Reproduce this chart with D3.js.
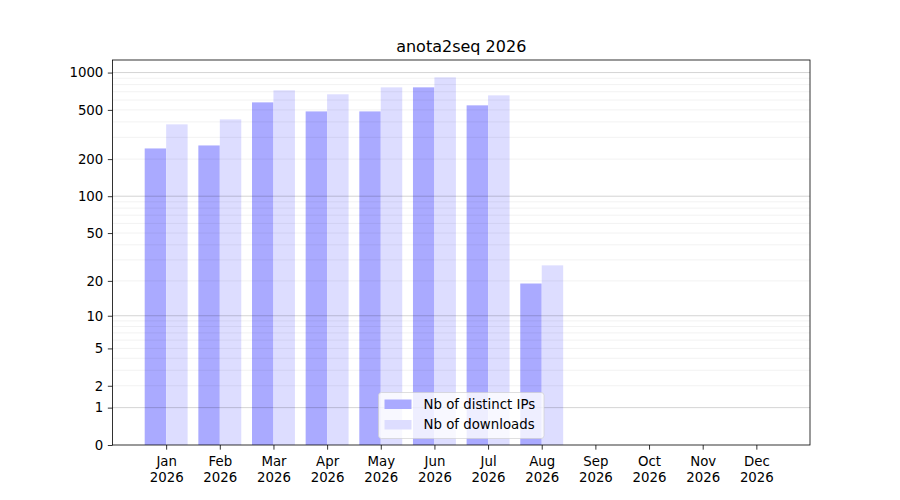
<!DOCTYPE html>
<html>
<head>
<meta charset="utf-8">
<script src="https://cdn.jsdelivr.net/npm/d3@7"></script>
<style>
  body { margin: 0; background: #fff; }
  svg { font-family: "DejaVu Sans", sans-serif; }
</style>
</head>
<body>
<div id="chart"></div>
<script>
// data
const months = ["Jan", "Feb", "Mar", "Apr", "May", "Jun", "Jul", "Aug", "Sep", "Oct", "Nov", "Dec"];
const year = "2026";
const distinctIPs = [244, 258, 575, 486, 486, 760, 544, 19, 0, 0, 0, 0];
const downloads = [382, 419, 719, 668, 760, 915, 655, 27, 0, 0, 0, 0];
const yTicks = [0, 1, 2, 5, 10, 20, 50, 100, 200, 500, 1000];
const seriesNames = ["Nb of distinct IPs", "Nb of downloads"];

function chart() {
    const width = 900;
    const height = 500;
    const margin = {top: 60, right: 90, bottom: 55, left: 112.5};

    const svg = d3.create("svg")
        .attr("width", width)
        .attr("height", height)
        .attr("viewBox", [0, 0, width, height]);

    // x: months sit at 1..12, with one unit of slack at each side
    const x = d3.scaleLinear()
        .domain([0, 13])
        .range([margin.left, width - margin.right]);

    // y: symlog (log10(1 + v))
    const y = d3.scaleSymlog()
        .constant(1)
        .domain([0, 1263])
        .range([height - margin.bottom, margin.top]);

    const barW = 0.4;

    // bars
    svg.append("g")
        .attr("fill", "#aaaaff")
        .selectAll("rect")
        .data(distinctIPs)
        .join("rect")
        .attr("x", (d, i) => x(i + 1 - barW))
        .attr("width", x(barW) - x(0))
        .attr("y", d => y(d))
        .attr("height", d => y(0) - y(d));

    svg.append("g")
        .attr("fill", "#ddddff")
        .selectAll("rect")
        .data(downloads)
        .join("rect")
        .attr("x", (d, i) => x(i + 1))
        .attr("width", x(barW) - x(0))
        .attr("y", d => y(d))
        .attr("height", d => y(0) - y(d));

    // grid lines (drawn over bars like matplotlib does)
    const minor = [];
    [1, 10, 100, 1000].forEach(p => {
        for (let k = 2; k <= 9; k++) {
            if (p * k <= y.domain()[1]) minor.push(p * k);
        }
    });
    svg.append("g")
        .attr("stroke", "#000")
        .attr("stroke-opacity", 0.07)
        .attr("stroke-width", 0.8)
        .selectAll("line")
        .data(minor)
        .join("line")
        .attr("x1", margin.left)
        .attr("x2", width - margin.right)
        .attr("y1", d => y(d))
        .attr("y2", d => y(d));

    svg.append("g")
        .attr("stroke", "#000")
        .attr("stroke-opacity", 0.22)
        .attr("stroke-width", 0.8)
        .selectAll("line")
        .data([1, 10, 100, 1000])
        .join("line")
        .attr("x1", margin.left)
        .attr("x2", width - margin.right)
        .attr("y1", d => y(d))
        .attr("y2", d => y(d));

    // axes
    const yAxis = svg.append("g")
        .attr("transform", `translate(${margin.left},0)`)
        .call(d3.axisLeft(y).tickValues(yTicks).tickFormat(d3.format("d"))
            .tickSize(4.67).tickPadding(4.5));
    yAxis.select(".domain").remove();
    yAxis.selectAll("text").attr("font-size", 13.33).attr("fill", "#000")
        .attr("font-family", "DejaVu Sans");
    yAxis.selectAll("line").attr("stroke", "#000").attr("stroke-width", 0.8);

    const xAxis = svg.append("g")
        .attr("transform", `translate(0,${height - margin.bottom})`)
        .call(d3.axisBottom(x).tickValues(d3.range(1, 13)).tickFormat("")
            .tickSize(4.67));
    xAxis.select(".domain").remove();
    xAxis.selectAll("line").attr("stroke", "#000").attr("stroke-width", 0.8);
    xAxis.selectAll(".tick").append("text")
        .attr("fill", "#000")
        .attr("font-size", 13.33)
        .attr("text-anchor", "middle")
        .attr("font-family", "DejaVu Sans")
        .each(function (d) {
            const t = d3.select(this);
            t.append("tspan").attr("x", 0).attr("y", 21).text(months[d - 1]);
            t.append("tspan").attr("x", 0).attr("y", 37).text(year);
        });

    // frame
    svg.append("rect")
        .attr("x", margin.left)
        .attr("y", margin.top)
        .attr("width", width - margin.right - margin.left)
        .attr("height", height - margin.bottom - margin.top)
        .attr("fill", "none")
        .attr("stroke", "#000")
        .attr("stroke-width", 0.8);

    // title
    svg.append("text")
        .attr("x", (margin.left + width - margin.right) / 2)
        .attr("y", 52)
        .attr("text-anchor", "middle")
        .attr("font-size", 16)
        .text("anota2seq " + year);

    // legend, lower center
    const legend = svg.append("g").attr("transform", "translate(378.5,392.5)");
    legend.append("rect")
        .attr("width", 165.5)
        .attr("height", 46)
        .attr("rx", 3)
        .attr("fill", "#fff")
        .attr("fill-opacity", 0.8)
        .attr("stroke", "#ccc")
        .attr("stroke-opacity", 0.8)
        .attr("stroke-width", 0.8);
    const colors = ["#aaaaff", "#ddddff"];
    const item = legend.selectAll("g.item")
        .data(seriesNames)
        .join("g")
        .attr("class", "item")
        .attr("transform", (d, i) => `translate(0,${i * 20.5})`);
    item.append("rect")
        .attr("x", 6)
        .attr("y", 7)
        .attr("width", 27)
        .attr("height", 9.5)
        .attr("fill", (d, i) => colors[i]);
    item.append("text")
        .attr("x", 45)
        .attr("y", 16)
        .attr("font-size", 13.33)
        .text(d => d);

    return svg.node();
}

document.getElementById("chart").appendChild(chart());
</script>
</body>
</html>
